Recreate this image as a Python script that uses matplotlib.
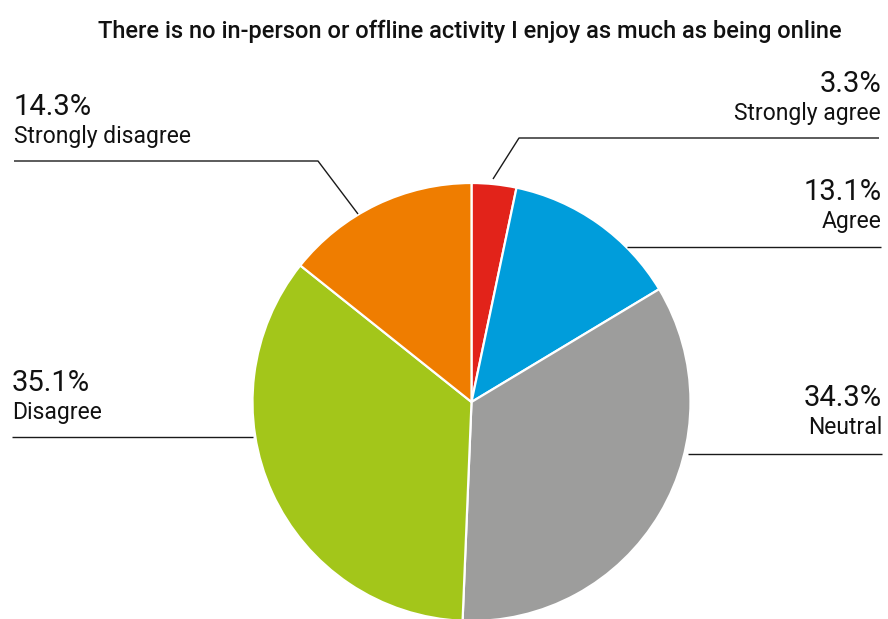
import matplotlib
matplotlib.use("Agg")
import matplotlib.pyplot as plt

title = "There is no in-person or offline activity I enjoy as much as being online"
categories = ["Strongly agree", "Agree", "Neutral", "Disagree", "Strongly disagree"]
shares = [3.3, 13.1, 34.3, 35.1, 14.3]
colors = ["#E2231A", "#009DDB", "#9D9D9C", "#A3C61A", "#EF7D00"]

W, H = 888, 619
CX, CY, R = 471.5, H - 402, 219

# label placement (pixel layout): text anchor, alignment, leader line path
layout = {
    "Strongly agree": dict(x=881, y=92, ha="right",
                           line=[(493, 179), (519, 138), (879, 138)]),
    "Agree": dict(x=882, y=200, ha="right",
                  line=[(627, 247), (881, 247)]),
    "Neutral": dict(x=882, y=406, ha="right",
                    line=[(688, 454), (882, 454)]),
    "Disagree": dict(x=12, y=391, ha="left",
                     line=[(253, 437), (12, 437)]),
    "Strongly disagree": dict(x=14, y=115, ha="left",
                              line=[(358, 214), (318, 161), (14, 161)]),
}

plt.rcParams["font.family"] = ["Roboto", "DejaVu Sans"]

fig = plt.figure(figsize=(W / 100, H / 100), dpi=100)
ax = fig.add_axes([0, 0, 1, 1])

ax.pie(shares, colors=colors, startangle=90, counterclock=False,
       center=(CX, CY), radius=R, frame=True,
       wedgeprops=dict(edgecolor="white", linewidth=1.6))
ax.set_xlim(0, W)
ax.set_ylim(0, H)
ax.set_aspect("equal")
ax.axis("off")

for cat, val in zip(categories, shares):
    p = layout[cat]
    xs = [pt[0] for pt in p["line"]]
    ys = [H - pt[1] for pt in p["line"]]
    ax.plot(xs, ys, color="#1a1a1a", linewidth=1.0, solid_capstyle="butt")
    ax.text(p["x"], H - p["y"], f"{val}%", ha=p["ha"], va="baseline",
            fontsize=21, color="#111111")
    ax.text(p["x"], H - p["y"] - 28, cat, ha=p["ha"], va="baseline",
            fontsize=16.5, color="#111111")

ax.text(470, H - 38, title, ha="center", va="baseline", fontsize=17,
        fontweight="medium", color="#111111")

fig.savefig("out.png", dpi=100)
